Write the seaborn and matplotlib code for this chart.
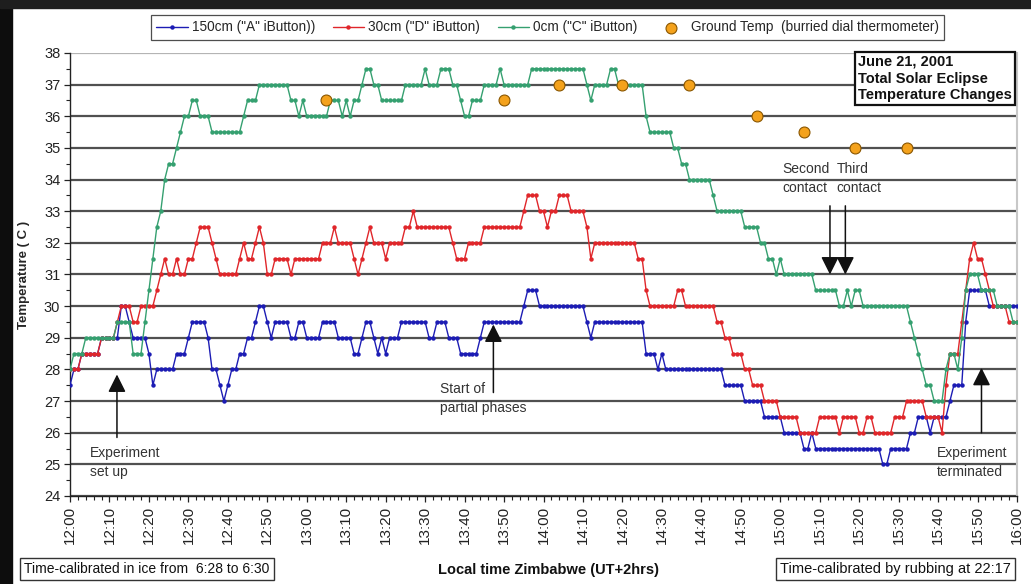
import numpy as np
import pandas as pd
import matplotlib
matplotlib.use("Agg")
import matplotlib.pyplot as plt
import seaborn as sns
from matplotlib.patches import Rectangle
from matplotlib.ticker import MultipleLocator

# ---------------- data (minutes after 12:00 local time) ----------------
minutes = list(range(0, 241))

temp_150cm = [
    27.5, 28, 28, 28.5, 28.5, 28.5, 28.5, 28.5, 29, 29,
    29, 29, 29, 30, 30, 29.5, 29, 29, 29, 29,
    28.5, 27.5, 28, 28, 28, 28, 28, 28.5, 28.5, 28.5,
    29, 29.5, 29.5, 29.5, 29.5, 29, 28, 28, 27.5, 27,
    27.5, 28, 28, 28.5, 28.5, 29, 29, 29.5, 30, 30,
    29.5, 29, 29.5, 29.5, 29.5, 29.5, 29, 29, 29.5, 29.5,
    29, 29, 29, 29, 29.5, 29.5, 29.5, 29.5, 29, 29,
    29, 29, 28.5, 28.5, 29, 29.5, 29.5, 29, 28.5, 29,
    28.5, 29, 29, 29, 29.5, 29.5, 29.5, 29.5, 29.5, 29.5,
    29.5, 29, 29, 29.5, 29.5, 29.5, 29, 29, 29, 28.5,
    28.5, 28.5, 28.5, 28.5, 29, 29.5, 29.5, 29.5, 29.5, 29.5,
    29.5, 29.5, 29.5, 29.5, 29.5, 30, 30.5, 30.5, 30.5, 30,
    30, 30, 30, 30, 30, 30, 30, 30, 30, 30,
    30, 29.5, 29, 29.5, 29.5, 29.5, 29.5, 29.5, 29.5, 29.5,
    29.5, 29.5, 29.5, 29.5, 29.5, 29.5, 28.5, 28.5, 28.5, 28,
    28.5, 28, 28, 28, 28, 28, 28, 28, 28, 28,
    28, 28, 28, 28, 28, 28, 27.5, 27.5, 27.5, 27.5,
    27.5, 27, 27, 27, 27, 27, 26.5, 26.5, 26.5, 26.5,
    26.5, 26, 26, 26, 26, 26, 25.5, 25.5, 26, 25.5,
    25.5, 25.5, 25.5, 25.5, 25.5, 25.5, 25.5, 25.5, 25.5, 25.5,
    25.5, 25.5, 25.5, 25.5, 25.5, 25.5, 25, 25, 25.5, 25.5,
    25.5, 25.5, 25.5, 26, 26, 26.5, 26.5, 26.5, 26, 26.5,
    26.5, 26.5, 26.5, 27, 27.5, 27.5, 27.5, 29.5, 30.5, 30.5,
    30.5, 30.5, 30.5, 30, 30, 30, 30, 30, 30, 30,
    30,
]

temp_30cm = [
    28, 28, 28, 28.5, 28.5, 28.5, 28.5, 28.5, 29, 29,
    29, 29, 29.5, 30, 30, 30, 29.5, 29.5, 30, 30,
    30, 30, 30.5, 31, 31.5, 31, 31, 31.5, 31, 31,
    31.5, 31.5, 32, 32.5, 32.5, 32.5, 32, 31.5, 31, 31,
    31, 31, 31, 31.5, 32, 31.5, 31.5, 32, 32.5, 32,
    31, 31, 31.5, 31.5, 31.5, 31.5, 31, 31.5, 31.5, 31.5,
    31.5, 31.5, 31.5, 31.5, 32, 32, 32, 32.5, 32, 32,
    32, 32, 31.5, 31, 31.5, 32, 32.5, 32, 32, 32,
    31.5, 32, 32, 32, 32, 32.5, 32.5, 33, 32.5, 32.5,
    32.5, 32.5, 32.5, 32.5, 32.5, 32.5, 32.5, 32, 31.5, 31.5,
    31.5, 32, 32, 32, 32, 32.5, 32.5, 32.5, 32.5, 32.5,
    32.5, 32.5, 32.5, 32.5, 32.5, 33, 33.5, 33.5, 33.5, 33,
    33, 32.5, 33, 33, 33.5, 33.5, 33.5, 33, 33, 33,
    33, 32.5, 31.5, 32, 32, 32, 32, 32, 32, 32,
    32, 32, 32, 32, 31.5, 31.5, 30.5, 30, 30, 30,
    30, 30, 30, 30, 30.5, 30.5, 30, 30, 30, 30,
    30, 30, 30, 30, 29.5, 29.5, 29, 29, 28.5, 28.5,
    28.5, 28, 28, 27.5, 27.5, 27.5, 27, 27, 27, 27,
    26.5, 26.5, 26.5, 26.5, 26.5, 26, 26, 26, 26, 26,
    26.5, 26.5, 26.5, 26.5, 26.5, 26, 26.5, 26.5, 26.5, 26.5,
    26, 26, 26.5, 26.5, 26, 26, 26, 26, 26, 26.5,
    26.5, 26.5, 27, 27, 27, 27, 27, 26.5, 26.5, 26.5,
    26.5, 26, 27.5, 28.5, 28.5, 28.5, 29.5, 30.5, 31.5, 32,
    31.5, 31.5, 31, 30.5, 30, 30, 30, 30, 29.5, 29.5,
    29.5,
]

temp_0cm = [
    28, 28.5, 28.5, 28.5, 29, 29, 29, 29, 29, 29,
    29, 29, 29.5, 29.5, 29.5, 29.5, 28.5, 28.5, 28.5, 29.5,
    30.5, 31.5, 32.5, 33, 34, 34.5, 34.5, 35, 35.5, 36,
    36, 36.5, 36.5, 36, 36, 36, 35.5, 35.5, 35.5, 35.5,
    35.5, 35.5, 35.5, 35.5, 36, 36.5, 36.5, 36.5, 37, 37,
    37, 37, 37, 37, 37, 37, 36.5, 36.5, 36, 36.5,
    36, 36, 36, 36, 36, 36, 36.5, 36.5, 36.5, 36,
    36.5, 36, 36.5, 36.5, 37, 37.5, 37.5, 37, 37, 36.5,
    36.5, 36.5, 36.5, 36.5, 36.5, 37, 37, 37, 37, 37,
    37.5, 37, 37, 37, 37.5, 37.5, 37.5, 37, 37, 36.5,
    36, 36, 36.5, 36.5, 36.5, 37, 37, 37, 37, 37.5,
    37, 37, 37, 37, 37, 37, 37, 37.5, 37.5, 37.5,
    37.5, 37.5, 37.5, 37.5, 37.5, 37.5, 37.5, 37.5, 37.5, 37.5,
    37.5, 37, 36.5, 37, 37, 37, 37, 37.5, 37.5, 37,
    37, 37, 37, 37, 37, 37, 36, 35.5, 35.5, 35.5,
    35.5, 35.5, 35.5, 35, 35, 34.5, 34.5, 34, 34, 34,
    34, 34, 34, 33.5, 33, 33, 33, 33, 33, 33,
    33, 32.5, 32.5, 32.5, 32.5, 32, 32, 31.5, 31.5, 31,
    31.5, 31, 31, 31, 31, 31, 31, 31, 31, 30.5,
    30.5, 30.5, 30.5, 30.5, 30.5, 30, 30, 30.5, 30, 30.5,
    30.5, 30, 30, 30, 30, 30, 30, 30, 30, 30,
    30, 30, 30, 29.5, 29, 28.5, 28, 27.5, 27.5, 27,
    27, 27, 28, 28.5, 28.5, 28, 29, 30.5, 31, 31,
    31, 30.5, 30.5, 30.5, 30.5, 30, 30, 30, 30, 29.5,
    29.5,
]

ground_minutes = [65, 110, 124, 140, 157, 174, 186, 199, 212]
ground_temp = [36.5, 36.5, 37, 37, 37, 36, 35.5, 35, 35]

tick_minutes = list(range(0, 241, 10))
tick_labels = ["12:00", "12:10", "12:20", "12:30", "12:40", "12:50",
               "13:00", "13:10", "13:20", "13:30", "13:40", "13:50",
               "14:00", "14:10", "14:20", "14:30", "14:40", "14:50",
               "15:00", "15:10", "15:20", "15:30", "15:40", "15:50", "16:00"]
y_ticks = list(range(24, 39))

series_names = ['150cm ("A" iButton))', '30cm ("D" iButton)', '0cm ("C" iButton)']
series_colors = ["#1c1cb4", "#e0262a", "#35a070"]
ground_name = "Ground Temp  (burried dial thermometer)"

# ---------------- style ----------------
sns.set_theme(style="ticks")
plt.rcParams["font.family"] = ["Liberation Sans", "DejaVu Sans"]
NARROW = ["Liberation Sans Narrow", "Liberation Sans", "DejaVu Sans"]

fig = plt.figure(figsize=(10.31, 5.84), dpi=100, facecolor="white")
fig.patches.append(Rectangle((0, 0), 12 / 1031, 1, transform=fig.transFigure,
                             color="#0d0d0d", zorder=0))
fig.patches.append(Rectangle((0, 1 - 8 / 584), 1, 8 / 584, transform=fig.transFigure,
                             color="#1e1e1e", zorder=0))

ax = fig.add_axes([70 / 1031, 88 / 584, 947 / 1031, 443 / 584])
ax.set_facecolor("white")

df = pd.DataFrame({
    "minute": minutes * 3,
    "temp": temp_150cm + temp_30cm + temp_0cm,
    "series": [series_names[0]] * len(minutes) + [series_names[1]] * len(minutes)
              + [series_names[2]] * len(minutes),
})

for name, color in zip(series_names, series_colors):
    sub = df[df["series"] == name]
    sns.lineplot(data=sub, x="minute", y="temp", color=color, marker="o",
                 markersize=3.2, markeredgewidth=0, linewidth=1.0, ax=ax,
                 label=name, sort=False, errorbar=None, zorder=3)

sns.scatterplot(x=ground_minutes, y=ground_temp, s=62, color="#f4a21c",
                edgecolor="#8a5600", linewidth=0.8, ax=ax, label=ground_name, zorder=5)

# axes limits / ticks
ax.set_xlim(0, 240)
ax.set_ylim(24, 38)
ax.set_xticks(tick_minutes)
ax.set_xticklabels(tick_labels, rotation=90, fontsize=11, color="#222222")
ax.xaxis.set_minor_locator(MultipleLocator(2))
ax.set_yticks(y_ticks)
ax.set_yticklabels([str(v) for v in y_ticks], fontsize=10.5, color="#222222")
ax.yaxis.set_minor_locator(MultipleLocator(0.5))
ax.tick_params(axis="both", which="major", direction="out", length=4, width=0.9,
               color="#222222", pad=3)
ax.tick_params(axis="both", which="minor", direction="out", length=3, width=0.8,
               color="#222222")
ax.set_xlabel("")
ax.set_ylabel("Temperature ( C )", fontsize=9.5, fontweight="bold", family=NARROW)
ax.yaxis.set_label_coords(-40 / 947, 0.5)

ax.yaxis.grid(True, color="#505050", linewidth=1.6, zorder=1)
ax.set_axisbelow(True)
glines = ax.get_ygridlines()
glines[-1].set_color("#b4b4b4")

ax.spines["top"].set_visible(False)
ax.spines["right"].set_color("#c8c8c8")
ax.spines["right"].set_linewidth(1.5)
for s in ("left", "bottom"):
    ax.spines[s].set_color("#222222")
    ax.spines[s].set_linewidth(1.0)

# legend
handles, labels = ax.get_legend_handles_labels()
if ax.get_legend() is not None:
    ax.get_legend().remove()
leg = fig.legend(handles, labels, loc="center", bbox_to_anchor=(0.531, 0.953),
                 ncol=4, frameon=True, fancybox=False, edgecolor="#222222",
                 prop={"family": NARROW, "size": 9.8}, handlelength=2.3,
                 columnspacing=1.3, handletextpad=0.3, borderpad=0.4, numpoints=1)
leg.get_frame().set_linewidth(0.9)

# annotations
arrow_kw = dict(arrowstyle="-|>,head_length=0.9,head_width=0.45", color="#111111",
                lw=1.1, shrinkA=0, shrinkB=0)
ann_kw = dict(fontsize=10, color="#333333", va="center", ha="left", linespacing=1.45)

ax.annotate("", xy=(11.9, 27.84), xytext=(11.9, 25.85), arrowprops=arrow_kw)
ax.text(5.0, 25.06, "Experiment\nset up", **ann_kw)

ax.annotate("", xy=(107.3, 29.42), xytext=(107.3, 27.27), arrowprops=arrow_kw)
ax.text(93.7, 27.08, "Start of\npartial phases", **ann_kw)

ax.annotate("", xy=(192.6, 31.0), xytext=(192.6, 33.17), arrowprops=arrow_kw)
ax.annotate("", xy=(196.5, 31.0), xytext=(196.5, 33.17), arrowprops=arrow_kw)
ax.text(180.5, 34.03, "Second\ncontact", **ann_kw)
ax.text(194.2, 34.03, "Third\ncontact", **ann_kw)

ax.annotate("", xy=(231.0, 28.05), xytext=(231.0, 26.0), arrowprops=arrow_kw)
ax.text(219.7, 25.06, "Experiment\nterminated", **ann_kw)

# title box
fig.text(858 / 1031, 1 - 55 / 584, "June 21, 2001\nTotal Solar Eclipse\nTemperature Changes",
         ha="left", va="top", fontsize=10.5, fontweight="bold", color="#111111",
         linespacing=1.25,
         bbox=dict(boxstyle="square,pad=0.2", fc="white", ec="#111111", lw=1.6))

# bottom texts
fig.text(548 / 1031, 1 - 570 / 584, "Local time Zimbabwe (UT+2hrs)", ha="center",
         va="center", fontsize=10.5, fontweight="bold", family=NARROW, color="#111111")
fig.text(24 / 1031, 1 - 569 / 584, "Time-calibrated in ice from  6:28 to 6:30",
         ha="left", va="center", fontsize=10, family=NARROW, color="#111111",
         bbox=dict(boxstyle="square,pad=0.3", fc="white", ec="#333333", lw=1.0))
fig.text(780 / 1031, 1 - 569 / 584, "Time-calibrated by rubbing at 22:17",
         ha="left", va="center", fontsize=10.5, family=NARROW, color="#111111",
         bbox=dict(boxstyle="square,pad=0.3", fc="white", ec="#333333", lw=1.0))

fig.savefig("out.png", dpi=100, facecolor=fig.get_facecolor())
